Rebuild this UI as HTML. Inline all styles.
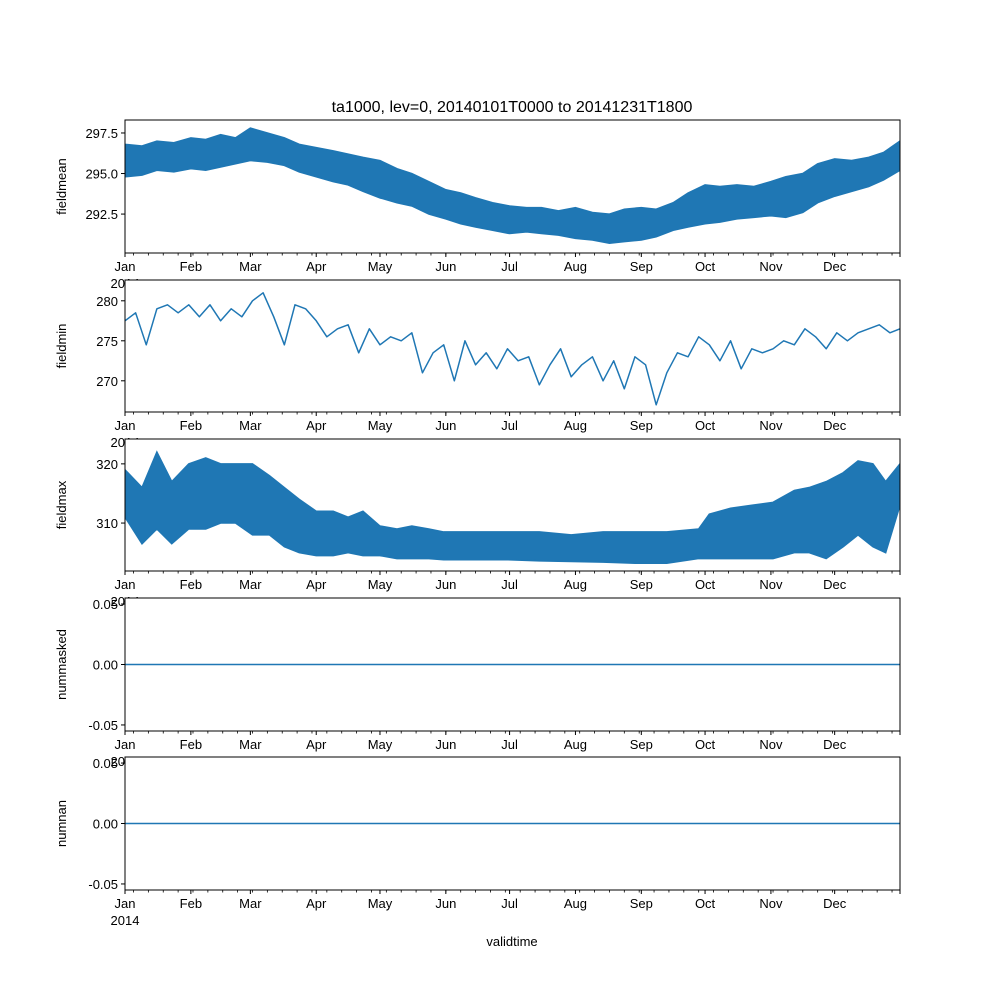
<!DOCTYPE html>
<html><head><meta charset="utf-8"><style>
body{margin:0;background:#fff}
svg text{font-family:"Liberation Sans","DejaVu Sans",sans-serif;font-size:13px;fill:#000}
</style></head><body>
<svg id="fig" width="1000" height="1000" viewBox="0 0 1000 1000" xmlns="http://www.w3.org/2000/svg">
<rect width="1000" height="1000" fill="#fff"/>
<text x="512" y="112" text-anchor="middle" style="font-size:16px">ta1000, lev=0, 20140101T0000 to 20141231T1800</text>
<text x="512" y="946" text-anchor="middle">validtime</text>
</svg>
<script>
const monthNames=["Jan","Feb","Mar","Apr","May","Jun","Jul","Aug","Sep","Oct","Nov","Dec"];
const monthDays=[0,31,59,90,120,151,181,212,243,273,304,334];
// fieldmean band
const meanDays=[0,8,15,23,31,38,45,52,59,67,75,82,90,98,105,112,120,128,135,143,151,158,165,173,181,189,196,204,212,220,228,235,243,250,258,265,273,280,288,296,304,311,319,326,334,342,350,357,364.75];
const meanHigh=[296.8,296.7,297.0,296.9,297.2,297.1,297.4,297.2,297.8,297.5,297.2,296.8,296.6,296.4,296.2,296.0,295.8,295.3,295.0,294.5,294.0,293.8,293.5,293.2,293.0,292.9,292.9,292.7,292.9,292.6,292.5,292.8,292.9,292.8,293.2,293.8,294.3,294.2,294.3,294.2,294.5,294.8,295.0,295.6,295.9,295.8,296.0,296.3,297.0];
const meanLow=[294.8,294.9,295.2,295.1,295.3,295.2,295.4,295.6,295.8,295.7,295.5,295.1,294.8,294.5,294.3,293.9,293.5,293.2,293.0,292.5,292.2,291.9,291.7,291.5,291.3,291.4,291.3,291.2,291.0,290.9,290.7,290.8,290.9,291.1,291.5,291.7,291.9,292.0,292.2,292.3,292.4,292.3,292.6,293.2,293.6,293.9,294.2,294.6,295.2];
// fieldmin line every 5 days
const minDays=[0,5,10,15,20,25,30,35,40,45,50,55,60,65,70,75,80,85,90,95,100,105,110,115,120,125,130,135,140,145,150,155,160,165,170,175,180,185,190,195,200,205,210,215,220,225,230,235,240,245,250,255,260,265,270,275,280,285,290,295,300,305,310,315,320,325,330,335,340,345,350,355,360,364.75];
const minVals=[277.5,278.5,274.5,279,279.5,278.5,279.5,278,279.5,277.5,279,278,280,281,278,274.5,279.5,279,277.5,275.5,276.5,277,273.5,276.5,274.5,275.5,275,276,271,273.5,274.5,270,275,272,273.5,271.5,274,272.5,273,269.5,272,274,270.5,272,273,270,272.5,269,273,272,267,271,273.5,273,275.5,274.5,272.5,275,271.5,274,273.5,274,275,274.5,276.5,275.5,274,276,275,276,276.5,277,276,276.5];
// fieldmax band
const maxDays=[0,8,15,22,30,38,45,52,60,68,75,82,90,98,105,112,120,128,135,143,150,165,180,195,210,225,240,255,270,275,285,295,305,315,322,330,338,345,352,358,364.75];
const maxHigh=[319,316,322,317,320,321,320,320,320,318,316,314,312,312,311,312,309.5,309,309.5,309,308.5,308.5,308.5,308.5,308,308.5,308.5,308.5,309,311.5,312.5,313,313.5,315.5,316,317,318.5,320.5,320,317,320];
const maxLow=[311,306.5,309,306.5,309,309,310,310,308,308,306,305,304.5,304.5,305,304.5,304.5,304,304,304,303.8,303.8,303.8,303.6,303.5,303.4,303.2,303.2,304,304,304,304,304,305,305,304,306,308,306,305,313];
const zeroDays=[0,364.75];
const zeroVals=[0,0];

const NS="http://www.w3.org/2000/svg",svg=document.getElementById('fig');
const X0=125,X1=900,DMAX=364.75;
const xs=d=>X0+(d/DMAX)*(X1-X0);
function mk(tag,attrs,parent){const e=document.createElementNS(NS,tag);for(const k in attrs)e.setAttribute(k,attrs[k]);(parent||svg).appendChild(e);return e;}
const panels=[
 {name:"fieldmean",top:120,bot:253,ymin:290.1,ymax:298.3,ticks:[292.5,295.0,297.5],dec:1},
 {name:"fieldmin",top:280,bot:412,ymin:266.1,ymax:282.6,ticks:[270,275,280],dec:0},
 {name:"fieldmax",top:439,bot:571,ymin:301.9,ymax:324.2,ticks:[310,320],dec:0},
 {name:"nummasked",top:598,bot:731,ymin:-0.055,ymax:0.055,ticks:[-0.05,0,0.05],dec:2},
 {name:"numnan",top:757,bot:890,ymin:-0.055,ymax:0.055,ticks:[-0.05,0,0.05],dec:2}
];
panels.forEach((p,i)=>{
 const g=mk('g',{});
 
 
 mk('rect',{x:X0,y:p.top,width:X1-X0,height:p.bot-p.top,fill:'#fff'},g);
 const ys=v=>p.bot-(v-p.ymin)/(p.ymax-p.ymin)*(p.bot-p.top);
 const cid='clip'+i;
 const cp=mk('clipPath',{id:cid},g);mk('rect',{x:X0,y:p.top,width:X1-X0,height:p.bot-p.top},cp);
 const dg=mk('g',{'clip-path':'url(#'+cid+')'},g);
 if(i===0||i===2){
  const D=i===0?meanDays:maxDays,H=i===0?meanHigh:maxHigh,L=i===0?meanLow:maxLow;
  let pts=D.map((d,k)=>xs(d)+','+ys(H[k]));
  for(let k=D.length-1;k>=0;k--)pts.push(xs(D[k])+','+ys(L[k]));
  const poly=mk('polygon',{points:pts.join(' '),fill:'#1f77b4',stroke:'#1f77b4','stroke-width':1.5},dg);
  
  
 } else {
  const D=i===1?minDays:zeroDays,V=i===1?minVals:zeroVals;
  const pl=mk('polyline',{points:D.map((d,k)=>xs(d)+','+ys(V[k])).join(' '),fill:'none',stroke:'#1f77b4','stroke-width':1.5,'stroke-linejoin':'round'},dg);
  
  
 }
 mk('rect',{x:X0,y:p.top,width:X1-X0,height:p.bot-p.top,fill:'none',stroke:'#000','stroke-width':1},g);
 p.ticks.forEach(t=>{
  const y=ys(t);
  mk('line',{x1:X0-4,x2:X0,y1:y,y2:y,stroke:'#000'},g);
  const tx=mk('text',{x:X0-7,y:y+5,'text-anchor':'end'},g);
  tx.textContent=t.toFixed(p.dec);
  
  
 });
 const yl=mk('text',{x:0,y:0,'text-anchor':'middle',transform:'translate(66,'+((p.top+p.bot)/2)+') rotate(-90)'},g);
 yl.textContent=p.name;
 
 
 for(let d=4;d<DMAX;d+=7){mk('line',{x1:xs(d),x2:xs(d),y1:p.bot,y2:p.bot+2.5,stroke:'#000','stroke-width':0.8},g);}
 monthDays.forEach((d,k)=>{
  const x=xs(d);
  mk('line',{x1:x,x2:x,y1:p.bot,y2:p.bot+4,stroke:'#000'},g);
  const tx=mk('text',{x:x,y:p.bot+18,'text-anchor':'middle'},g);
  tx.textContent=monthNames[k];
  
  
 });
 mk('line',{x1:X1,x2:X1,y1:p.bot,y2:p.bot+4,stroke:'#000'},g);
 const yr=mk('text',{x:X0,y:p.bot+35,'text-anchor':'middle'},g);
 yr.textContent='2014';
 
 
});
</script>
</body></html>
